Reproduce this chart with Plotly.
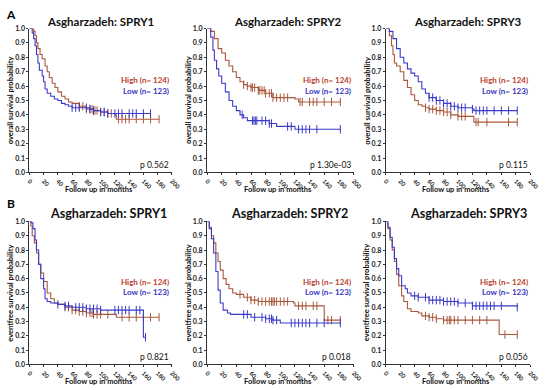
import plotly.graph_objects as go
from plotly.subplots import make_subplots
import bisect

# ---------------- data ----------------
titles = ["Asgharzadeh: SPRY1", "Asgharzadeh: SPRY2", "Asgharzadeh: SPRY3"]
row_labels = ["A", "B"]
y_titles = ["overall survival probability", "eventfree survival probability"]
x_title = "Follow up in months"
legend_high = "High (n= 124)"
legend_low = "Low (n= 123)"
p_values = [["p 0.562", "p 1.30e-03", "p 0.115"], ["p 0.821", "p 0.018", "p 0.056"]]

# A1 overall SPRY1
a1_high_t = [0, 6, 8, 10, 12, 15, 18, 22, 25, 28, 32, 36, 40, 45, 50, 55, 60, 70, 80, 90, 100, 110, 120, 122, 182]
a1_high_s = [1.0, 0.98, 0.95, 0.90, 0.86, 0.82, 0.79, 0.74, 0.70, 0.66, 0.62, 0.59, 0.56, 0.53, 0.51, 0.49, 0.48, 0.46, 0.44, 0.43, 0.42, 0.41, 0.40, 0.37, 0.37]
a1_high_c = [70, 75, 80, 85, 88, 90, 92, 95, 100, 105, 110, 115, 125, 130, 135, 140, 150, 160, 170, 182]
a1_low_t = [0, 4, 6, 8, 10, 12, 14, 18, 20, 22, 25, 30, 35, 40, 45, 50, 55, 60, 85, 90, 100, 110, 170]
a1_low_s = [1.0, 0.97, 0.93, 0.88, 0.82, 0.76, 0.71, 0.67, 0.63, 0.58, 0.55, 0.53, 0.51, 0.50, 0.48, 0.47, 0.46, 0.45, 0.44, 0.43, 0.42, 0.41, 0.41]
a1_low_c = [60, 65, 70, 80, 85, 90, 100, 105, 110, 120, 125, 130, 140, 145, 150, 160, 170]

# A2 overall SPRY2
a2_high_t = [0, 5, 10, 15, 20, 25, 30, 35, 40, 45, 50, 55, 60, 70, 80, 90, 120, 125, 182]
a2_high_s = [1.0, 0.98, 0.93, 0.86, 0.83, 0.78, 0.74, 0.70, 0.66, 0.63, 0.61, 0.60, 0.59, 0.57, 0.55, 0.52, 0.51, 0.49, 0.49]
a2_high_c = [50, 55, 60, 62, 65, 70, 72, 75, 78, 80, 85, 88, 90, 95, 100, 105, 110, 127, 130, 140, 145, 150, 160, 170, 182]
a2_low_t = [0, 5, 8, 10, 13, 16, 20, 25, 30, 35, 40, 45, 50, 55, 60, 85, 95, 120, 182]
a2_low_s = [1.0, 0.94, 0.85, 0.78, 0.72, 0.67, 0.62, 0.56, 0.50, 0.46, 0.43, 0.40, 0.38, 0.36, 0.36, 0.34, 0.32, 0.30, 0.30]
a2_low_c = [48, 62, 64, 66, 68, 75, 80, 85, 88, 110, 115, 125, 130, 135, 140, 150, 182]

# A3 overall SPRY3
a3_high_t = [0, 5, 8, 10, 12, 15, 20, 25, 30, 35, 40, 45, 50, 55, 60, 70, 80, 90, 100, 122, 182]
a3_high_s = [1.0, 0.95, 0.88, 0.82, 0.76, 0.74, 0.70, 0.64, 0.59, 0.54, 0.50, 0.47, 0.46, 0.45, 0.44, 0.43, 0.42, 0.40, 0.39, 0.35, 0.35]
a3_high_c = [55, 60, 65, 70, 75, 80, 85, 90, 100, 105, 110, 125, 128, 140, 170, 182]
a3_low_t = [0, 5, 10, 15, 20, 25, 30, 35, 40, 45, 50, 55, 60, 70, 80, 90, 100, 120, 122, 182]
a3_low_s = [1.0, 0.98, 0.93, 0.86, 0.80, 0.76, 0.72, 0.69, 0.67, 0.63, 0.58, 0.55, 0.52, 0.50, 0.48, 0.46, 0.45, 0.44, 0.43, 0.43]
a3_low_c = [60, 65, 70, 75, 80, 85, 90, 95, 100, 105, 110, 120, 125, 130, 135, 140, 150, 160, 170, 182]

# B1 eventfree SPRY1
b1_high_t = [0, 2, 4, 7, 10, 13, 16, 20, 25, 30, 35, 40, 50, 60, 70, 80, 90, 122, 182]
b1_high_s = [1.0, 0.97, 0.90, 0.85, 0.78, 0.70, 0.64, 0.58, 0.50, 0.46, 0.43, 0.42, 0.40, 0.38, 0.37, 0.36, 0.35, 0.33, 0.33]
b1_high_c = [50, 55, 60, 65, 70, 75, 80, 85, 88, 90, 95, 100, 110, 130, 140, 150, 160, 170, 182]
b1_low_t = [0, 3, 5, 8, 10, 13, 16, 20, 22, 25, 30, 40, 50, 60, 80, 100, 160, 163]
b1_low_s = [1.0, 0.99, 0.95, 0.87, 0.80, 0.70, 0.60, 0.53, 0.46, 0.44, 0.43, 0.42, 0.41, 0.40, 0.39, 0.38, 0.19, 0.19]
b1_low_c = [40, 50, 55, 65, 70, 75, 80, 85, 90, 95, 100, 120, 125, 130, 135, 140, 150, 155, 163]

# B2 eventfree SPRY2
b2_high_t = [0, 3, 6, 9, 12, 15, 18, 22, 26, 30, 35, 40, 50, 60, 70, 118, 120, 160, 182]
b2_high_s = [1.0, 0.96, 0.90, 0.85, 0.78, 0.72, 0.66, 0.60, 0.56, 0.53, 0.50, 0.49, 0.47, 0.45, 0.44, 0.43, 0.41, 0.31, 0.31]
b2_high_c = [45, 55, 60, 65, 70, 75, 80, 85, 88, 90, 92, 95, 100, 105, 110, 125, 130, 135, 145, 150, 165, 170, 182]
b2_low_t = [0, 3, 6, 9, 12, 15, 18, 22, 28, 32, 60, 80, 90, 100, 182]
b2_low_s = [1.0, 0.95, 0.88, 0.78, 0.65, 0.52, 0.43, 0.38, 0.36, 0.35, 0.33, 0.32, 0.31, 0.29, 0.29]
b2_low_c = [50, 55, 65, 75, 80, 85, 88, 90, 95, 115, 120, 125, 130, 135, 140, 150, 160, 182]

# B3 eventfree SPRY3
b3_high_t = [0, 3, 6, 9, 12, 15, 18, 22, 25, 30, 35, 45, 50, 60, 70, 80, 157, 182]
b3_high_s = [1.0, 0.95, 0.87, 0.80, 0.72, 0.63, 0.55, 0.48, 0.44, 0.39, 0.37, 0.36, 0.34, 0.33, 0.32, 0.31, 0.21, 0.21]
b3_high_c = [55, 60, 65, 70, 80, 85, 88, 90, 95, 100, 110, 120, 130, 140, 165, 182]
b3_low_t = [0, 3, 6, 9, 12, 15, 18, 22, 27, 30, 35, 45, 60, 80, 100, 120, 182]
b3_low_s = [1.0, 0.96, 0.89, 0.82, 0.74, 0.67, 0.62, 0.55, 0.53, 0.50, 0.48, 0.47, 0.45, 0.44, 0.43, 0.41, 0.40]
b3_low_c = [40, 45, 55, 60, 65, 70, 75, 80, 85, 90, 95, 100, 110, 120, 125, 130, 135, 140, 145, 150, 160, 182]

curves = [
    [((a1_high_t, a1_high_s, a1_high_c), (a1_low_t, a1_low_s, a1_low_c)),
     ((a2_high_t, a2_high_s, a2_high_c), (a2_low_t, a2_low_s, a2_low_c)),
     ((a3_high_t, a3_high_s, a3_high_c), (a3_low_t, a3_low_s, a3_low_c))],
    [((b1_high_t, b1_high_s, b1_high_c), (b1_low_t, b1_low_s, b1_low_c)),
     ((b2_high_t, b2_high_s, b2_high_c), (b2_low_t, b2_low_s, b2_low_c)),
     ((b3_high_t, b3_high_s, b3_high_c), (b3_low_t, b3_low_s, b3_low_c))],
]

# ---------------- styling ----------------
W, H = 550, 390
HIGH_LINE = "#a9583b"
HIGH_TXT = "#b8402a"
LOW_LINE = "#3b3bc9"
LOW_TXT = "#3535c0"
FONT = "Lato"

col_px = [(27, 173), (209, 359), (392, 540)]
row_px = [(24, 171), (221, 367)]
title_cx = [[100, 292, 476], [108, 293, 477]]
title_cy = [17, 213]
title_size = [11.5, 12.6]
label_pos = [(8, 10), (8, 203)]
legend_y = [(0.64, 0.565), (0.58, 0.51)]


def px_x(v):
    return v / W


def px_y(v):
    return 1 - v / H


def step_val(ts, ss, t):
    i = bisect.bisect_right(ts, t) - 1
    return ss[max(i, 0)]


fig = make_subplots(rows=2, cols=3)
annotations = []

for r in range(2):
    for c in range(3):
        idx = r * 3 + c + 1
        xa = "xaxis" if idx == 1 else f"xaxis{idx}"
        ya = "yaxis" if idx == 1 else f"yaxis{idx}"
        (ht, hs, hc), (lt, ls, lc) = curves[r][c]
        for (ts, ss, cs, col) in [(ht, hs, hc, HIGH_LINE), (lt, ls, lc, LOW_LINE)]:
            fig.add_trace(go.Scatter(x=ts, y=ss, mode="lines", line=dict(color=col, width=1.1, shape="hv"),
                                     showlegend=False, hoverinfo="skip"), row=r + 1, col=c + 1)
            fig.add_trace(go.Scatter(x=cs, y=[step_val(ts, ss, t) for t in cs], mode="markers",
                                     marker=dict(symbol="line-ns-open", size=6, color=col,
                                                 line=dict(color=col, width=1)),
                                     showlegend=False, hoverinfo="skip"), row=r + 1, col=c + 1)
        x0, x1 = col_px[c]
        yt, yb = row_px[r]
        fig.layout[xa].update(domain=[px_x(x0), px_x(x1)], range=[0, 200], dtick=20, tickangle=45,
                              showline=True, linecolor="#333", linewidth=1, ticks="outside", ticklen=2,
                              tickcolor="#333", showgrid=False, zeroline=False,
                              tickfont=dict(family=FONT, size=6, color="#222", weight="bold"))
        fig.layout[ya].update(domain=[px_y(yb), px_y(yt)], range=[0, 1.0], dtick=0.1, tickformat=".1f",
                              showline=True, linecolor="#333", linewidth=1, ticks="outside", ticklen=2,
                              tickcolor="#333", showgrid=False, zeroline=False,
                              tickfont=dict(family=FONT, size=7, color="#222", weight="bold"))
        xref = "x" if idx == 1 else f"x{idx}"
        yref = "y" if idx == 1 else f"y{idx}"
        # title
        annotations.append(dict(text=titles[c], x=px_x(title_cx[r][c]), y=px_y(title_cy[r]), xref="paper",
                                yref="paper", showarrow=False, xanchor="center", yanchor="middle",
                                font=dict(family=FONT, size=title_size[r], color="#111", weight="bold")))
        # legend texts
        annotations.append(dict(text=legend_high, x=199, y=legend_y[r][0], xref=xref, yref=yref,
                                showarrow=False, xanchor="right", yanchor="middle",
                                font=dict(family=FONT, size=8, color=HIGH_TXT, weight="bold")))
        annotations.append(dict(text=legend_low, x=199, y=legend_y[r][1], xref=xref, yref=yref,
                                showarrow=False, xanchor="right", yanchor="middle",
                                font=dict(family=FONT, size=8, color=LOW_TXT, weight="bold")))
        # p value
        annotations.append(dict(text=p_values[r][c], x=199, y=0.055, xref=xref, yref=yref,
                                showarrow=False, xanchor="right", yanchor="middle",
                                font=dict(family=FONT, size=8.5, color="#111")))
        # axis titles
        annotations.append(dict(text=x_title, x=px_x((x0 + x1) / 2 - 2), y=px_y(yb + 17.5), xref="paper",
                                yref="paper", showarrow=False, xanchor="center", yanchor="middle",
                                font=dict(family=FONT, size=7.5, color="#111", weight="bold")))
        annotations.append(dict(text=y_titles[r], x=px_x(x0 - 19), y=px_y((yt + yb) / 2), xref="paper",
                                yref="paper", showarrow=False, xanchor="center", yanchor="middle",
                                textangle=-90,
                                font=dict(family=FONT, size=7.5, color="#111", weight="bold")))
    annotations.append(dict(text=row_labels[r], x=px_x(label_pos[r][0]), y=px_y(label_pos[r][1]),
                            xref="paper", yref="paper", showarrow=False, xanchor="center", yanchor="middle",
                            font=dict(family=FONT, size=12, color="#000", weight="bold")))

fig.update_layout(width=W, height=H, margin=dict(l=0, r=0, t=0, b=0), paper_bgcolor="white",
                  plot_bgcolor="white", annotations=annotations, showlegend=False)

fig.write_html("out.html", config={"displayModeBar": False},
               post_script="document.body.style.margin='0';document.body.style.overflow='hidden';")
